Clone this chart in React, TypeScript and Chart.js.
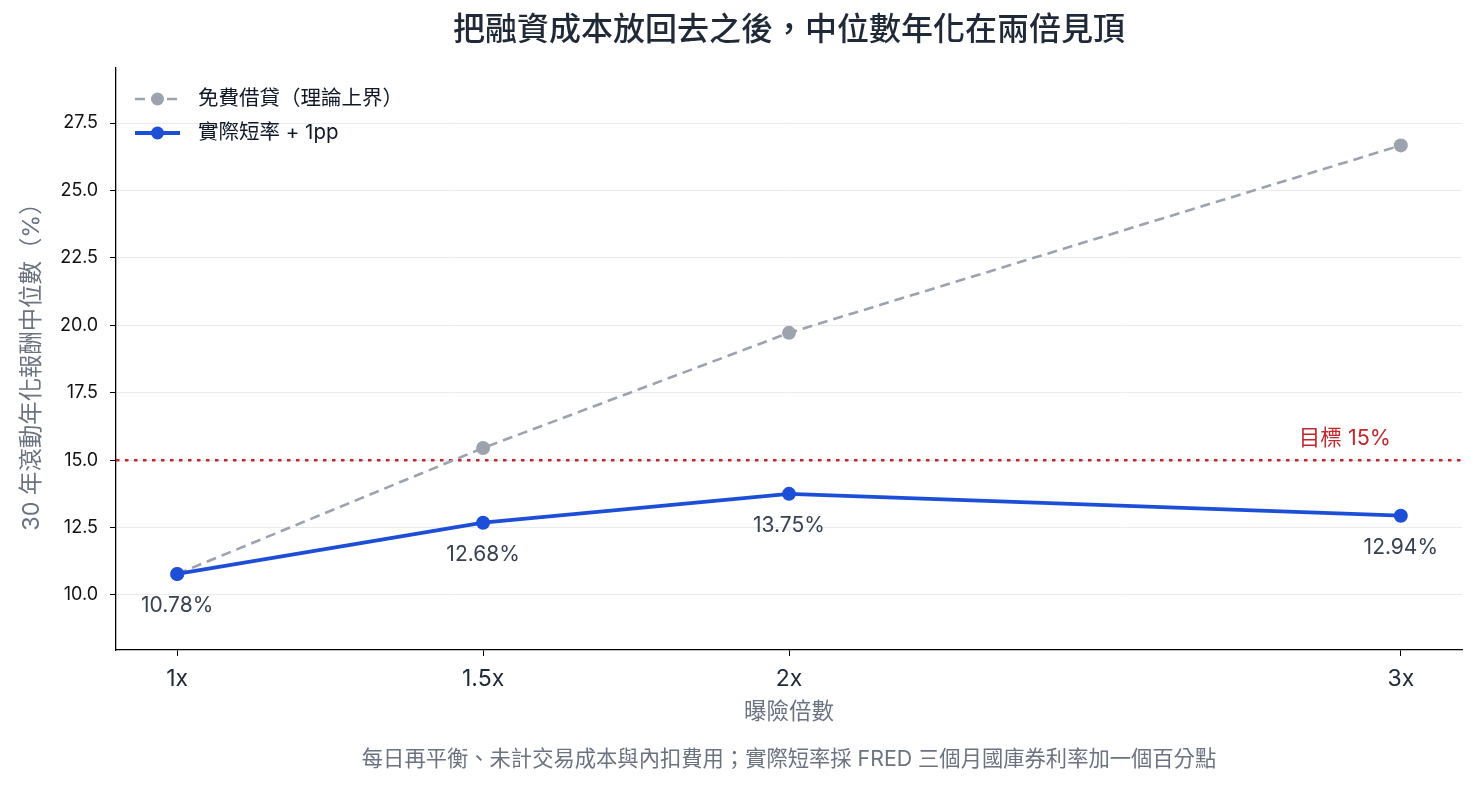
import React, { useEffect, useRef } from "react";
import { Chart, registerables } from "chart.js";

Chart.register(...registerables);

const exposures = [1, 1.5, 2, 3];
const exposureLabels = ["1x", "1.5x", "2x", "3x"];
const freeBorrow = [10.78, 15.45, 19.72, 26.67];
const realRate = [10.78, 12.68, 13.75, 12.94];
const yTicks = [10, 12.5, 15, 17.5, 20, 22.5, 25, 27.5];
const targetValue = [15];
const seriesNames = ["免費借貸（理論上界）", "實際短率 + 1pp"];
const titleText = "把融資成本放回去之後，中位數年化在兩倍見頂";
const yTitle = "30 年滾動年化報酬中位數（%）";
const xTitle = "曝險倍數";
const targetLabel = "目標 15%";
const footnote = "每日再平衡、未計交易成本與內扣費用；實際短率採 FRED 三個月國庫券利率加一個百分點";

const FONT = "Inter, 'Noto Sans CJK TC', 'Noto Sans', sans-serif";
const GREY = "#9ca3af";
const BLUE = "#1d4ed8";
const RED = "#c1272d";

const xMin = 0.9;
const xMax = 3.1;
const yMin = 7.96;
const yMax = 29.54;

function setFont(ctx: CanvasRenderingContext2D, size: number, weight = "normal") {
  ctx.font = `${weight} ${size}px ${FONT}`;
}

const overlayPlugin = {
  id: "overlay",
  afterDatasetsDraw(chart: any) {
    const ctx: CanvasRenderingContext2D = chart.ctx;
    const area = chart.chartArea;
    const xs = chart.scales.x;
    const ys = chart.scales.y;
    ctx.save();
    ctx.textBaseline = "middle";

    // data labels for the real-rate series
    const meta = chart.getDatasetMeta(1);
    setFont(ctx, 21);
    ctx.fillStyle = "#374151";
    ctx.textAlign = "center";
    meta.data.forEach((pt: any, i: number) => {
      ctx.fillText(realRate[i].toFixed(2) + "%", pt.x, pt.y + 32);
    });

    // target label
    setFont(ctx, 21.5);
    ctx.fillStyle = RED;
    ctx.textAlign = "right";
    ctx.fillText(targetLabel, xs.getPixelForValue(3) - 10, ys.getPixelForValue(targetValue[0]) - 22);

    // legend
    const lx0 = area.left + 19;
    const lx1 = area.left + 64;
    const rows = [
      { y: area.top + 31, color: GREY, dash: [10, 6], width: 2.6 },
      { y: area.top + 65, color: BLUE, dash: [], width: 3.8 },
    ];
    rows.forEach((r, i) => {
      ctx.save();
      ctx.strokeStyle = r.color;
      ctx.lineWidth = r.width;
      ctx.setLineDash(r.dash);
      ctx.beginPath();
      ctx.moveTo(lx0, r.y);
      ctx.lineTo(lx1, r.y);
      ctx.stroke();
      ctx.setLineDash([]);
      ctx.fillStyle = r.color;
      ctx.beginPath();
      ctx.arc((lx0 + lx1) / 2, r.y, 6.5, 0, Math.PI * 2);
      ctx.fill();
      ctx.restore();
      setFont(ctx, 20.5);
      ctx.fillStyle = "#111827";
      ctx.textAlign = "left";
      ctx.fillText(seriesNames[i], area.left + 82, r.y);
    });

    ctx.restore();
  },
  afterDraw(chart: any) {
    const ctx: CanvasRenderingContext2D = chart.ctx;
    const area = chart.chartArea;
    const cx = (area.left + area.right) / 2;
    ctx.save();
    ctx.textBaseline = "middle";
    ctx.textAlign = "center";

    setFont(ctx, 32, "500");
    ctx.fillStyle = "#1f2937";
    ctx.fillText(titleText, cx, 30);

    setFont(ctx, 22.5);
    ctx.fillStyle = "#6b7280";
    ctx.fillText(xTitle, cx, 712);

    setFont(ctx, 21.3);
    ctx.fillText(footnote, cx, 760);

    ctx.save();
    ctx.translate(32, (area.top + area.bottom) / 2 + 2);
    ctx.rotate(-Math.PI / 2);
    setFont(ctx, 23.4);
    ctx.fillText(yTitle, 0, 0);
    ctx.restore();

    ctx.restore();
  },
};

export default function App() {
  const ref = useRef<HTMLCanvasElement>(null);
  useEffect(() => {
    if (!ref.current) return;
    const chart = new Chart(ref.current, {
      type: "line",
      data: {
        datasets: [
          {
            label: seriesNames[0],
            data: exposures.map((x, i) => ({ x, y: freeBorrow[i] })),
            borderColor: GREY,
            backgroundColor: GREY,
            borderWidth: 2.6,
            borderDash: [10, 6],
            pointRadius: 7,
            pointBorderWidth: 0,
            pointBackgroundColor: GREY,
            tension: 0,
            order: 2,
          },
          {
            label: seriesNames[1],
            data: exposures.map((x, i) => ({ x, y: realRate[i] })),
            borderColor: BLUE,
            backgroundColor: BLUE,
            borderWidth: 3.8,
            pointRadius: 7,
            pointBorderWidth: 0,
            pointBackgroundColor: BLUE,
            tension: 0,
            order: 1,
          },
          {
            label: "target",
            data: [
              { x: xMin, y: targetValue[0] },
              { x: xMax, y: targetValue[0] },
            ],
            borderColor: RED,
            borderWidth: 2.5,
            borderDash: [3.5, 5.5],
            pointRadius: 0,
            tension: 0,
            order: 3,
          },
        ],
      },
      options: {
        animation: false,
        responsive: false,
        devicePixelRatio: 1,
        layout: { padding: { top: 68, right: 16, bottom: 0, left: 0 } },
        plugins: {
          legend: { display: false },
          title: { display: false },
          tooltip: { enabled: false },
        },
        scales: {
          x: {
            type: "linear",
            min: xMin,
            max: xMax,
            afterBuildTicks: (scale: any) => {
              scale.ticks = exposures.map((v) => ({ value: v }));
            },
            afterFit: (scale: any) => {
              scale.height = 139;
            },
            ticks: {
              callback: (v: any) => exposureLabels[exposures.indexOf(Number(v))] ?? "",
              font: { family: FONT, size: 23 },
              color: "#1f2937",
              padding: 9,
              maxRotation: 0,
              autoSkip: false,
            },
            grid: {
              drawOnChartArea: false,
              drawTicks: true,
              tickLength: 6,
              tickColor: "#000",
            },
            border: { color: "#000", width: 1.3 },
          },
          y: {
            type: "linear",
            min: yMin,
            max: yMax,
            afterBuildTicks: (scale: any) => {
              scale.ticks = yTicks.map((v) => ({ value: v }));
            },
            afterFit: (scale: any) => {
              scale.width = 116;
            },
            ticks: {
              callback: (v: any) => Number(v).toFixed(1),
              font: { family: FONT, size: 18 },
              color: "#111111",
              padding: 12,
            },
            grid: {
              color: "#ebebeb",
              lineWidth: 1,
              drawTicks: true,
              tickLength: 6,
              tickColor: "#000",
            },
            border: { color: "#000", width: 1.3 },
          },
        },
      },
      plugins: [overlayPlugin],
    } as any);
    return () => chart.destroy();
  }, []);
  return (
    <div style={{ position: "fixed", left: 0, top: 0, width: 1478, height: 789, background: "#fff" }}>
      <canvas ref={ref} width={1478} height={789} style={{ width: 1478, height: 789 }} />
    </div>
  );
}
